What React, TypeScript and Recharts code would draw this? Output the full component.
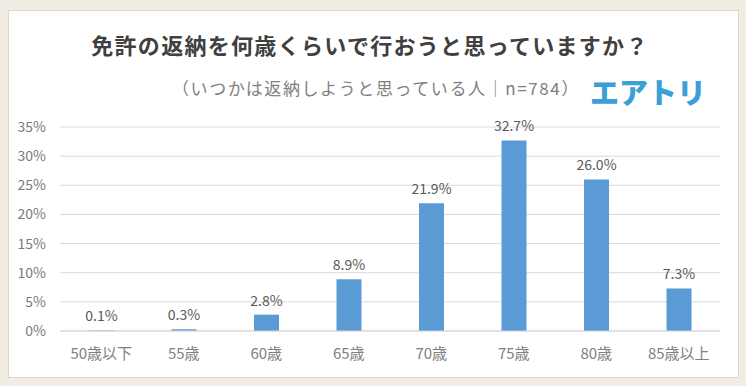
import React from "react";
import { BarChart, Bar, XAxis, YAxis, CartesianGrid, LabelList } from "recharts";

const categories = ["50歳以下", "55歳", "60歳", "65歳", "70歳", "75歳", "80歳", "85歳以上"];
const shares = [0.1, 0.3, 2.8, 8.9, 21.9, 32.7, 26.0, 7.3];
const yTicks = [0, 5, 10, 15, 20, 25, 30, 35];

const data = categories.map((c, i) => ({ name: c, value: shares[i] }));

const FONT = "'Noto Sans CJK JP', 'Noto Sans', sans-serif";

export default function App() {
  return (
    <div
      style={{
        position: "absolute",
        left: 0,
        top: 0,
        width: 746,
        height: 386,
        background: "#f1ede3",
        fontFamily: FONT,
        overflow: "hidden",
      }}
    >
      <div
        style={{
          position: "absolute",
          left: 8,
          top: 10,
          width: 729,
          height: 366,
          background: "#ffffff",
          border: "1px solid #dcd8cf",
        }}
      />
      <div
        style={{
          position: "absolute",
          left: 0,
          width: 740,
          top: 29,
          textAlign: "center",
          fontSize: 22,
          fontWeight: 700,
          letterSpacing: 1.3,
          color: "#404040",
          lineHeight: "30px",
        }}
      >
        免許の返納を何歳くらいで行おうと思っていますか？
      </div>
      <div
        style={{
          position: "absolute",
          left: 172,
          top: 76,
          fontSize: 17,
          letterSpacing: 1.6,
          color: "#7f7f7f",
          lineHeight: "24px",
          whiteSpace: "nowrap",
        }}
      >
        （いつかは返納しようと思っている人｜n=784）
      </div>
      <div
        style={{
          position: "absolute",
          left: 590,
          top: 72,
          fontSize: 29,
          fontWeight: 900,
          color: "#3c9fd7",
          lineHeight: "38px",
          whiteSpace: "nowrap",
        }}
      >
        エアトリ
      </div>
      <div style={{ position: "absolute", left: 0, top: 0 }}>
        <BarChart
          width={746}
          height={386}
          data={data}
          margin={{ top: 127, right: 26, left: 10, bottom: 25 }}
        >
          <CartesianGrid vertical={false} stroke="#d9d9d9" />
          <XAxis
            dataKey="name"
            axisLine={{ stroke: "#d9d9d9" }}
            tickLine={false}
            tickMargin={11}
            height={30}
            tick={{ fill: "#808080", fontSize: 15, fontFamily: FONT }}
            interval={0}
          />
          <YAxis
            domain={[0, 35]}
            ticks={yTicks}
            tickFormatter={(v: number) => `${v}%`}
            axisLine={false}
            tickLine={false}
            width={50}
            tickMargin={8}
            tick={{ fill: "#7a7a7a", fontSize: 14, fontFamily: FONT }}
          />
          <Bar dataKey="value" fill="#5b9bd5" barSize={25} isAnimationActive={false}>
            <LabelList
              dataKey="value"
              position="top"
              offset={9}
              formatter={(v: number) => `${v.toFixed(1)}%`}
              style={{ fill: "#595959", fontSize: 14, fontFamily: FONT }}
            />
          </Bar>
        </BarChart>
      </div>
    </div>
  );
}
